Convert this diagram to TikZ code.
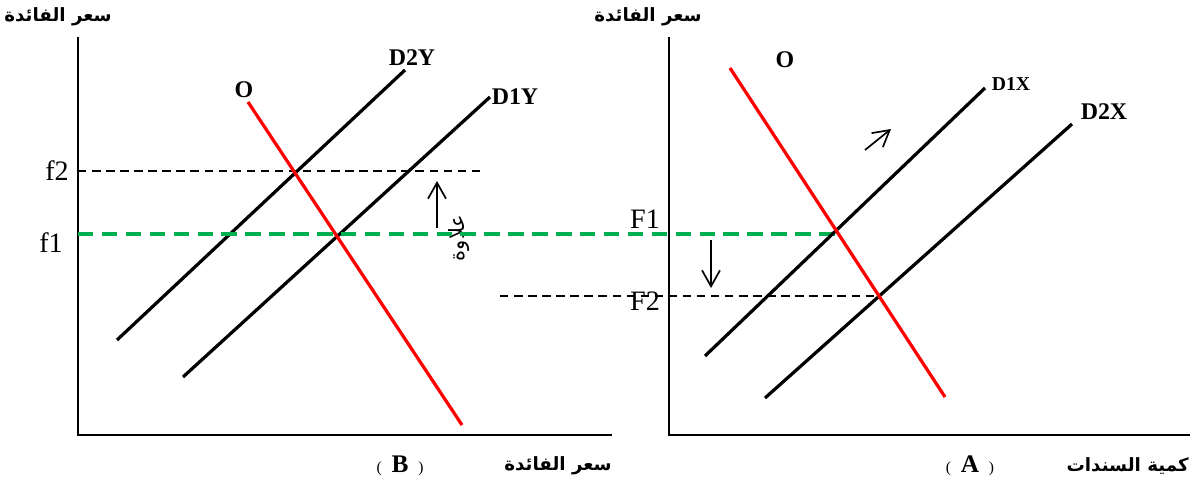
\documentclass[tikz,border=0pt]{standalone}
\usepackage{fontspec}
\setmainfont{Liberation Serif}
\newfontfamily\arabicfont[Script=Arabic]{DejaVu Sans}
\TeXXeTstate=1
\usetikzlibrary{arrows.meta, positioning}
\definecolor{supplyred}{RGB}{255,0,0}
\definecolor{rategreen}{RGB}{0,176,80}
\newcommand{\artext}[1]{\arabicfont\beginR #1\endR}
\newcommand{\panelname}[1]{{\fontsize{11}{11}\selectfont(}\hspace{7pt}{\fontsize{18}{18}\selectfont\bfseries #1}\hspace{7pt}{\fontsize{11}{11}\selectfont)}}

\begin{document}
\begin{tikzpicture}[x=0.025cm, y=-0.025cm,
    axis/.style={line width=1.8pt},
    demand/.style={line width=2.3pt},
    supply/.style={line width=2.3pt, color=supplyred},
    level/.style={line width=1.1pt, dash pattern=on 6pt off 4pt},
    oldlevel/.style={line width=2.4pt, color=rategreen, dash pattern=on 11pt off 6pt},
    movearrow/.style={line width=1.2pt, -{Straight Barb[length=4mm, width=4.5mm]}},
    curve/.style={font=\fontsize{17}{17}\selectfont\bfseries, inner sep=0pt},
    price/.style={font=\fontsize{20}{20}\selectfont, inner sep=0pt},
    title/.style={font=\fontsize{13}{15}\selectfont\bfseries, inner sep=0pt}
]
\useasboundingbox (0,0) rectangle (1190,486);

% panel B
\coordinate (yB) at (78,37);
\coordinate (oB) at (78,435);
\coordinate (xB) at (612,435);
\draw[axis] (yB) -- (oB) -- (xB);
\coordinate (d2ya) at (117,340); \coordinate (d2yb) at (405,70);
\coordinate (d1ya) at (183,377); \coordinate (d1yb) at (490,97);
\coordinate (oBa) at (248,102);  \coordinate (oBb) at (462,425);
\coordinate (f2a) at (78,171);   \coordinate (f2b) at (483,171);
\coordinate (f1a) at (78,234);
\draw[level] (f2a) -- (f2b);
\draw[demand] (d2ya) -- (d2yb);
\draw[demand] (d1ya) -- (d1yb);
\draw[supply] (oBa) -- (oBb);
\node[curve] (D2Y) at (412,58) {D2Y};
\node[curve] (D1Y) at (515,97) {D1Y};
\node[curve] (OB) at (244,90) {O};
\node[price, anchor=east] (f2) at (69,171) {f2};
\node[price, anchor=east] (f1) at (63,243) {f1};
\coordinate (upa) at (437,228); \coordinate (upb) at (437,181);
\draw[movearrow] (upa) -- (upb);
\node[rotate=90, inner sep=0pt, font=\fontsize{15}{15}\selectfont] (premium) at (459,238) {\artext{علاوة}};
\node[title] (tB) at (58,17) {\artext{سعر الفائدة}};
\node[title] (bB) at (558,466) {\artext{سعر الفائدة}};
\node[inner sep=0pt] (nB) at (400,466) {\panelname{B}};

% panel A
\coordinate (yA) at (669,37);
\coordinate (oA) at (669,435);
\coordinate (xA) at (1190,435);
\draw[axis] (yA) -- (oA) -- (xA);
\coordinate (d1xa) at (705,356); \coordinate (d1xb) at (985,88);
\coordinate (d2xa) at (765,398); \coordinate (d2xb) at (1072,124);
\coordinate (oAa) at (730,68);   \coordinate (oAb) at (945,397);
\coordinate (F2a) at (500,296);  \coordinate (F2b) at (879,296);
\coordinate (F1b) at (838,234);
\node[price] (F1) at (645,219) {F1};
\node[price] (F2) at (645,301) {F2};
\draw[level] (F2a) -- (F2b);
\draw[oldlevel] (f1a) -- (F1b);
\draw[demand] (d1xa) -- (d1xb);
\draw[demand] (d2xa) -- (d2xb);
\draw[supply] (oAa) -- (oAb);
\node[curve, font=\fontsize{14}{14}\selectfont\bfseries] (D1X) at (1011,84) {D1X};
\node[curve] (D2X) at (1104,112) {D2X};
\node[curve] (OA) at (785,60) {O};
\coordinate (dna) at (711,240); \coordinate (dnb) at (711,288);
\draw[movearrow] (dna) -- (dnb);
\coordinate (sha) at (865,150); \coordinate (shb) at (891,129);
\draw[movearrow] (sha) -- (shb);
\node[title] (tA) at (648,17) {\artext{سعر الفائدة}};
\node[title, anchor=east] (bA) at (1189,466) {\artext{كمية السندات}};
\node[inner sep=0pt] (nA) at (970,466) {\panelname{A}};
\end{tikzpicture}
\end{document}
